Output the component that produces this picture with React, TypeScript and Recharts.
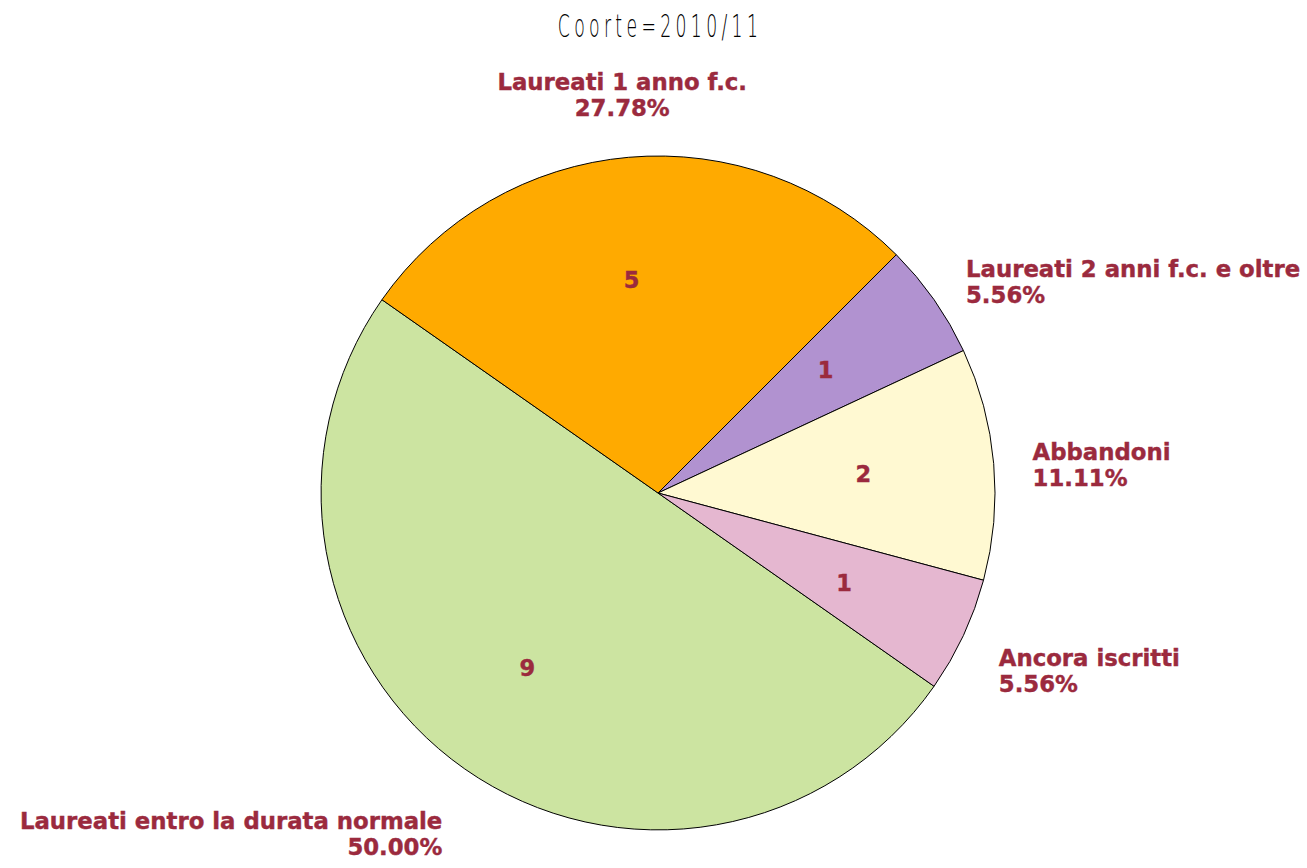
import React from "react";
import { PieChart, Pie, Cell } from "recharts";

const categories = [
  "Laureati entro la durata normale",
  "Laureati 1 anno f.c.",
  "Laureati 2 anni f.c. e oltre",
  "Abbandoni",
  "Ancora iscritti",
];
const counts = [9, 5, 1, 2, 1];
const percentLabels = ["50.00%", "27.78%", "5.56%", "11.11%", "5.56%"];
const colors = ["#CCE4A1", "#FFAA00", "#B192D0", "#FFF9D2", "#E5B7D0"];
const title = "Coorte=2010/11";

const data = categories.map((name, i) => ({ name, value: counts[i], pct: percentLabels[i] }));

const LABEL_COLOR = "#9B2A3E";
const RAD = Math.PI / 180;

const renderLabel = (props: any) => {
  const { cx, cy, midAngle, outerRadius, index } = props;
  const c = Math.cos(midAngle * RAD);
  const s = Math.sin(midAngle * RAD);
  // inner value
  const ri = outerRadius * 0.635;
  const ix = cx + ri * c;
  const iy = cy - ri * s;
  // outer label
  const ro = outerRadius + 39;
  const px = cx + ro * c;
  const py = cy - ro * s;
  let anchor: "start" | "middle" | "end" = "middle";
  if (Math.abs(c) >= 0.3) anchor = c > 0 ? "start" : "end";
  let y1: number;
  let x1 = px;
  if (anchor === "middle") {
    y1 = s > 0 ? py - 28 : py + 22;
    x1 = px - 3;
  } else {
    y1 = py + Math.max(0, -s) * 34;
  }
  return (
    <g>
      <text
        x={ix}
        y={iy}
        textAnchor="end"
        dominantBaseline="central"
        fill={LABEL_COLOR}
        stroke={LABEL_COLOR}
        strokeWidth={0.4}
        fontFamily="DejaVu Sans, Verdana, sans-serif"
        fontWeight="bold"
        fontSize={22.5}
      >
        {counts[index]}
      </text>
      <text
        x={x1}
        y={y1}
        textAnchor={anchor}
        fill={LABEL_COLOR}
        stroke={LABEL_COLOR}
        strokeWidth={0.4}
        fontFamily="DejaVu Sans, Verdana, sans-serif"
        fontWeight="bold"
        fontSize={22.8}
      >
        <tspan x={x1} y={y1}>{categories[index]}</tspan>
        <tspan x={x1} y={y1 + 26}>{percentLabels[index]}</tspan>
      </text>
    </g>
  );
};

export default function App() {
  return (
    <div style={{ position: "absolute", left: 0, top: 0, width: 1307, height: 868, background: "#fff" }}>
      <PieChart width={1307} height={868} margin={{ top: 0, right: 0, bottom: 0, left: 0 }}>
        <text
          x={0}
          y={0}
          transform="translate(660,37) scale(0.54,1)"
          textAnchor="middle"
          fill="#000"
          fontFamily="DejaVu Sans, sans-serif"
          fontWeight={200}
          fontSize={32}
          letterSpacing={8}
        >
          {title}
        </text>
        <Pie
          data={data}
          dataKey="value"
          nameKey="name"
          cx={658}
          cy={493}
          outerRadius={337}
          startAngle={-35}
          endAngle={-395}
          stroke="#000"
          strokeWidth={1}
          label={renderLabel}
          labelLine={false}
          isAnimationActive={false}
        >
          {data.map((d, i) => (
            <Cell key={d.name} fill={colors[i]} />
          ))}
        </Pie>
      </PieChart>
    </div>
  );
}
